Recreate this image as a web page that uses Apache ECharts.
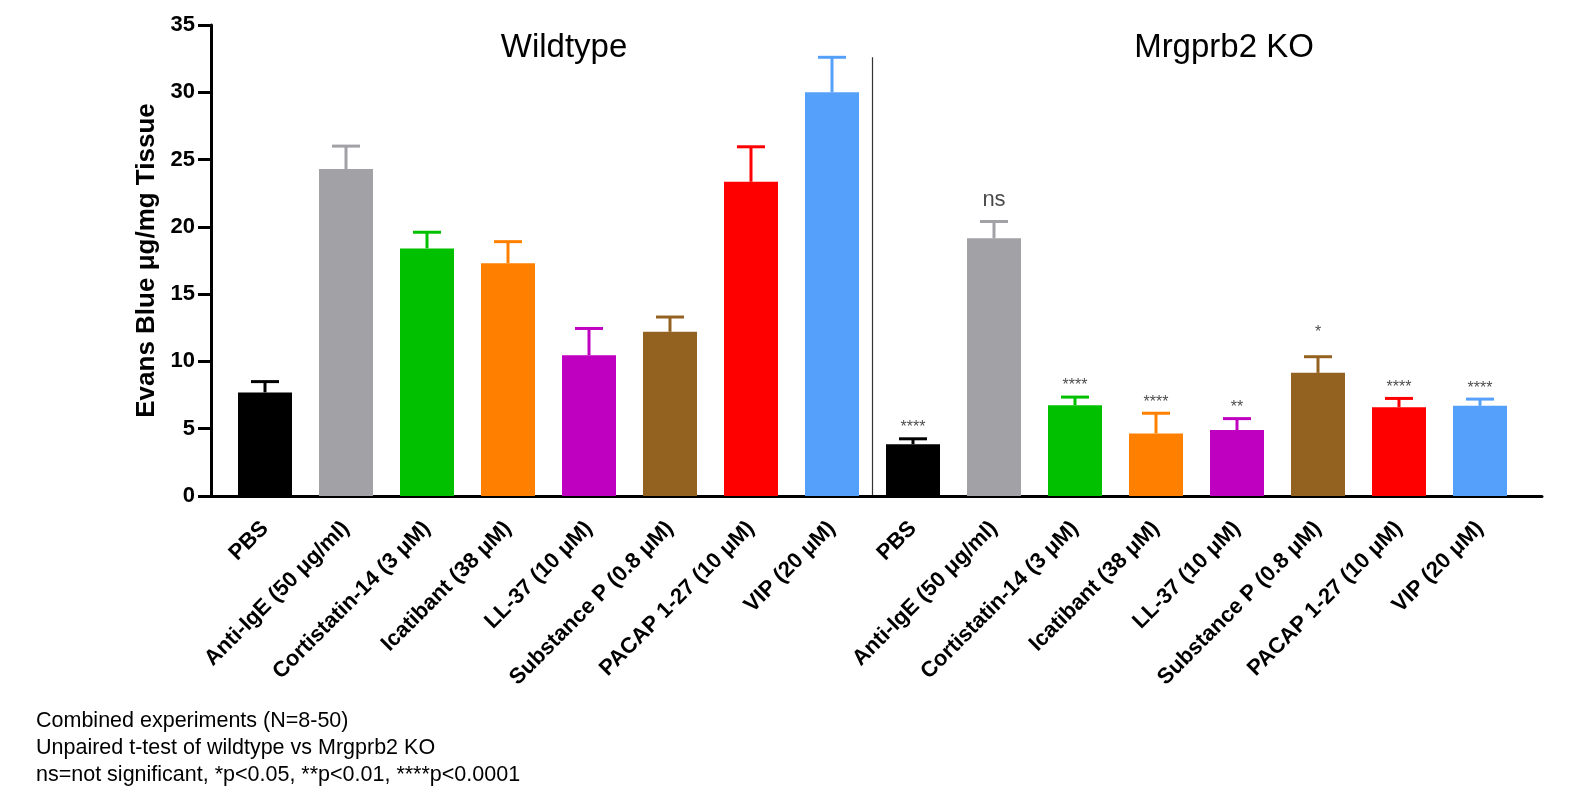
<!DOCTYPE html>
<html>
<head>
<meta charset="utf-8">
<script src="https://cdn.jsdelivr.net/npm/echarts@6/dist/echarts.min.js"></script>
<style>
  html, body { margin: 0; padding: 0; background: #fff; }
  #chart { width: 1573px; height: 794px; }
</style>
</head>
<body>
<div id="chart"></div>
<script>
const categories = [
  'PBS', 'Anti-IgE (50 μg/ml)', 'Cortistatin-14 (3 μM)', 'Icatibant (38 μM)',
  'LL-37 (10 μM)', 'Substance P (0.8 μM)', 'PACAP 1-27 (10 μM)', 'VIP (20 μM)',
  'PBS', 'Anti-IgE (50 μg/ml)', 'Cortistatin-14 (3 μM)', 'Icatibant (38 μM)',
  'LL-37 (10 μM)', 'Substance P (0.8 μM)', 'PACAP 1-27 (10 μM)', 'VIP (20 μM)'
];
const wildtypeMean = [7.7, 24.3, 18.4, 17.3, 10.45, 12.2, 23.35, 30.0];
const wildtypeSem = [0.8, 1.7, 1.2, 1.6, 2.0, 1.1, 2.6, 2.6];
const koMean = [3.85, 19.15, 6.75, 4.65, 4.9, 9.15, 6.6, 6.7];
const koSem = [0.4, 1.25, 0.6, 1.5, 0.85, 1.2, 0.65, 0.5];
const koSignificance = ['****', 'ns', '****', '****', '**', '*', '****', '****'];
const treatmentColors = ['#000000', '#a2a1a6', '#00c000', '#ff8000', '#c000c0', '#946220', '#ff0000', '#55a0fa'];
const yTicks = [0, 5, 10, 15, 20, 25, 30, 35];

const means = wildtypeMean.concat(koMean);
const sems = wildtypeSem.concat(koSem);
const colorOf = (i) => treatmentColors[i % 8];

const chart = echarts.init(document.getElementById('chart'));
const font = 'Liberation Sans, Arial, sans-serif';

const option = {
  animation: false,
  grid: [
    { left: 224.5, width: 1296, top: 25, height: 471 },
    { left: 211, width: 1331, top: 25, height: 471 }
  ],
  xAxis: [
    {
      type: 'category', gridIndex: 0, data: categories,
      axisLine: { show: false },
      axisTick: { alignWithLabel: true, length: 13, lineStyle: { width: 3, color: '#000' } },
      axisLabel: {
        rotate: 45, interval: 0, margin: 29,
        fontFamily: font, fontWeight: 'bold', fontSize: 22, color: '#000'
      }
    },
    {
      type: 'value', gridIndex: 1, min: 0, max: 1,
      axisLine: { show: true, lineStyle: { width: 3, color: '#000' } },
      axisTick: { show: false }, axisLabel: { show: false }, splitLine: { show: false }
    }
  ],
  yAxis: [
    { type: 'value', gridIndex: 0, min: 0, max: 35, show: false, splitLine: { show: false } },
    {
      type: 'value', gridIndex: 1, min: yTicks[0], max: yTicks[yTicks.length - 1], interval: 5,
      name: 'Evans Blue μg/mg Tissue', nameLocation: 'middle', nameGap: 50, nameRotate: 90,
      nameTextStyle: { fontFamily: font, fontWeight: 'bold', fontSize: 26, color: '#000' },
      axisLine: { show: true, lineStyle: { width: 3, color: '#000' } },
      axisTick: { show: true, length: 13, lineStyle: { width: 3, color: '#000' } },
      axisLabel: { fontFamily: font, fontWeight: 'bold', fontSize: 22, color: '#000', margin: 16 },
      splitLine: { show: false }
    }
  ],
  series: [
    {
      type: 'bar', xAxisIndex: 0, yAxisIndex: 0, barWidth: 54,
      data: means.map((v, i) => ({ value: v, itemStyle: { color: colorOf(i) } }))
    },
    {
      type: 'custom', xAxisIndex: 0, yAxisIndex: 0,
      data: means.map((v, i) => [i, v, v + sems[i]]),
      renderItem: (params, api) => {
        const i = api.value(0);
        const base = api.coord([i, api.value(1)]);
        const top = api.coord([i, api.value(2)]);
        const c = colorOf(i);
        const style = { stroke: c, lineWidth: 3 };
        return {
          type: 'group',
          children: [
            { type: 'line', shape: { x1: base[0], y1: base[1], x2: top[0], y2: top[1] }, style },
            { type: 'line', shape: { x1: top[0] - 14, y1: top[1], x2: top[0] + 14, y2: top[1] }, style }
          ]
        };
      },
      z: 1
    },
    {
      type: 'scatter', xAxisIndex: 0, yAxisIndex: 0, symbolSize: 0,
      data: koMean.map((v, i) => ({
        value: [i + 8, v + koSem[i]],
        label: koSignificance[i] === 'ns'
          ? { fontSize: 22, distance: 11 }
          : koSignificance[i] === '*' ? { fontSize: 16, distance: 16 } : { fontSize: 16, distance: 3 }
      })),
      label: {
        show: true, position: 'top', color: '#1a1a1a', fontFamily: font,
        formatter: (p) => koSignificance[p.dataIndex]
      }
    }
  ]
};
chart.setOption(option);

const xSep = (chart.convertToPixel({ xAxisIndex: 0 }, 7) + chart.convertToPixel({ xAxisIndex: 0 }, 8)) / 2;
const yTop = chart.convertToPixel({ yAxisIndex: 0 }, 32.6);
const yBottom = chart.convertToPixel({ yAxisIndex: 0 }, 0);

chart.setOption({
  graphic: [
    { type: 'line', shape: { x1: xSep, y1: yTop, x2: xSep, y2: yBottom }, style: { stroke: '#333', lineWidth: 1.2 } },
    { type: 'text', x: 564, y: 48, style: { text: 'Wildtype', fontFamily: font, fontSize: 33, fill: '#000', textAlign: 'center', textVerticalAlign: 'middle' } },
    { type: 'text', x: 1224, y: 48, style: { text: 'Mrgprb2 KO', fontFamily: font, fontSize: 33, fill: '#000', textAlign: 'center', textVerticalAlign: 'middle' } },
    {
      type: 'text', x: 36, y: 708,
      style: {
        text: 'Combined experiments (N=8-50)\nUnpaired t-test of wildtype vs Mrgprb2 KO\nns=not significant, *p<0.05, **p<0.01, ****p<0.0001',
        fontFamily: font, fontSize: 21.5, lineHeight: 27, fill: '#000'
      }
    }
  ]
});
</script>
</body>
</html>
